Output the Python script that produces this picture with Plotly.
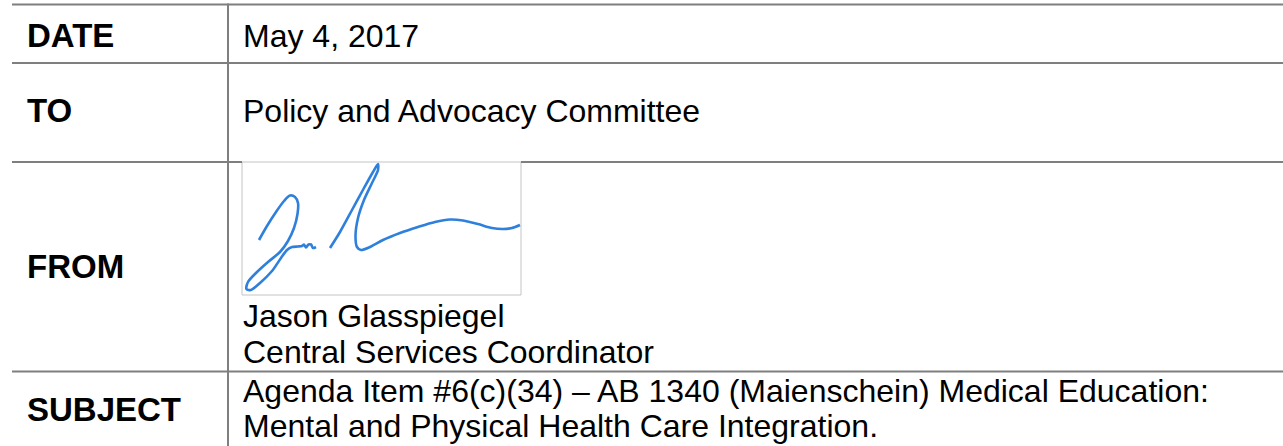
import plotly.graph_objects as go

# ---- data ----
labels = ["DATE", "TO", "FROM", "SUBJECT"]
label_baselines = [47, 122, 278, 421]
value_lines = ["May 4, 2017",
               "Policy and Advocacy Committee",
               "Jason Glasspiegel",
               "Central Services Coordinator",
               "Agenda Item #6(c)(34) \u2013 AB 1340 (Maienschein) Medical Education:",
               "Mental and Physical Health Care Integration."]
value_baselines = [47, 122, 327, 363, 402, 437]
row_lines_y = [4.5, 63, 162, 371.5]

# signature strokes (pixel coordinates of the scanned pen path)
sig1_x = [259, 267, 276, 284, 290, 295, 298, 297.5, 294, 288, 280, 268, 256, 248, 246.5,
          251, 260, 272, 281, 287, 292, 298, 302, 304, 306, 308.5, 311, 313, 316]
sig1_y = [240, 226, 212, 201, 195.5, 197, 203, 214, 228, 241, 252, 262, 273, 282, 289,
          290, 283, 271, 258, 250, 247, 246.5, 246, 244.5, 247.5, 244.5, 244.5, 248, 247]
sig2_x = [330, 340, 352, 364, 373, 378, 378, 372, 364, 358, 355.5, 357, 361, 370, 383,
          400, 418, 435, 450, 463, 478, 492, 503, 512, 520]
sig2_y = [248, 232, 210, 188, 172, 164, 170, 183, 200, 218, 236, 247, 250, 247, 240,
          233, 227, 222, 219.5, 220.5, 224, 228, 229, 228, 225]

W, H = 1283, 446
FS = 32
FS_LABEL = 33
FONT = "Liberation Sans, Arial, sans-serif"
GRID = "#7f7f7f"
LABEL_X = 25
VALUE_X = 241
VLINE_X = 228
SIG_BOX = (242, 162, 521, 295)

fig = go.Figure()

sig_color = "#2f80dc"
for xs, ys in [(sig1_x, sig1_y), (sig2_x, sig2_y)]:
    fig.add_trace(go.Scatter(x=xs, y=ys, mode="lines",
                             line=dict(color=sig_color, width=2.6, shape="spline", smoothing=0.8),
                             hoverinfo="skip", showlegend=False))

shapes = []
for i, y in enumerate(row_lines_y):
    if i == 2:
        shapes.append(dict(type="line", x0=12, x1=SIG_BOX[0], y0=y, y1=y,
                           line=dict(color=GRID, width=2)))
        shapes.append(dict(type="line", x0=SIG_BOX[2], x1=W, y0=y, y1=y,
                           line=dict(color=GRID, width=2)))
    else:
        shapes.append(dict(type="line", x0=12, x1=W, y0=y, y1=y,
                           line=dict(color=GRID, width=2)))
shapes.append(dict(type="line", x0=VLINE_X, x1=VLINE_X, y0=3.5, y1=H,
                   line=dict(color=GRID, width=2)))
shapes.append(dict(type="rect", x0=SIG_BOX[0], y0=SIG_BOX[1], x1=SIG_BOX[2], y1=SIG_BOX[3],
                   line=dict(color="#c4c4c4", width=1), layer="below"))

annotations = []
def center_from_baseline(b, fs):
    return b - 0.3465 * fs

for lab, b in zip(labels, label_baselines):
    annotations.append(dict(x=LABEL_X, y=center_from_baseline(b, FS_LABEL), xref="x", yref="y",
                            text="<b>" + lab + "</b>", showarrow=False,
                            xanchor="left", yanchor="middle",
                            font=dict(family=FONT, size=FS_LABEL, color="#000000")))
for txt, b in zip(value_lines, value_baselines):
    annotations.append(dict(x=VALUE_X, y=center_from_baseline(b, FS), xref="x", yref="y",
                            text=txt, showarrow=False,
                            xanchor="left", yanchor="middle",
                            font=dict(family=FONT, size=FS, color="#000000")))

fig.update_layout(
    width=W, height=H,
    margin=dict(l=0, r=0, t=0, b=0),
    paper_bgcolor="white", plot_bgcolor="white",
    xaxis=dict(range=[0, W], visible=False, fixedrange=True),
    yaxis=dict(range=[H, 0], visible=False, fixedrange=True),
    shapes=shapes, annotations=annotations,
    showlegend=False,
)

fig.write_html("out.html", config={"displayModeBar": False},
               post_script="document.body.style.margin='0';document.body.style.overflow='hidden';")
